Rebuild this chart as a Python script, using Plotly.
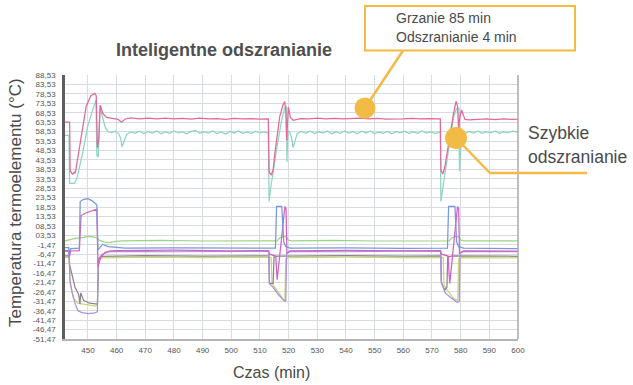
import plotly.graph_objects as go

# ---- axis ticks -------------------------------------------------------------
x_ticks = [450, 460, 470, 480, 490, 500, 510, 520, 530, 540, 550, 560, 570, 580, 590, 600]
y_ticks = [88.53, 83.53, 78.53, 73.53, 68.53, 63.53, 58.53, 53.53, 48.53, 43.53,
           38.53, 33.53, 28.53, 23.53, 18.53, 13.53, 8.53, 3.53, -1.47, -6.47,
           -11.47, -16.47, -21.47, -26.47, -31.47, -36.47, -41.47, -46.47, -51.47]
y_ticktext = ["88,53", "83,53", "78,53", "73,53", "68,53", "63,53", "58,53", "53,53",
              "48,53", "43,53", "38,53", "33,53", "28,53", "23,53", "18,53", "13,53",
              "08,53", "03,53", "-1,47", "-6,47", "-11,47", "-16,47", "-21,47",
              "-26,47", "-31,47", "-36,47", "-41,47", "-46,47", "-51,47"]

# ---- heater / coil sensors (upper pair) --------------------------------------
pink_t = [442.0, 443.6, 443.8, 444.6, 445.3, 445.6, 447.1, 449.4, 451.0, 452.4,
          452.9, 453.3, 453.8, 454.3, 455.2, 456.5, 458.5, 460.5, 461.7, 463.0,
          465, 468, 471, 474, 477, 480, 483, 486, 489, 492,
          495, 498, 501, 504, 507, 510, 512.9, 513.2, 514.0, 514.6,
          515.2, 516.9, 518.0, 518.6, 519.0, 519.3, 519.9, 520.6, 521.6, 524,
          527, 530, 533, 536, 539, 542, 545, 548, 551, 554,
          557, 560, 563, 566, 569, 572.9, 573.1, 573.8, 574.5, 576.0,
          577.5, 578.4, 578.9, 579.3, 579.7, 580.3, 581.5, 583, 586, 589,
          592, 595, 598, 600]
pink_v = [63.5, 63.5, 37.5, 36.0, 37.0, 36.5, 50.5, 72.0, 77.5, 78.8,
          77.5, 50.0, 55.0, 72.5, 68.0, 66.0, 65.5, 65.0, 63.5, 65.2,
          65.8, 65.3, 65.6, 65.2, 65.7, 65.3, 65.5, 65.1, 65.6, 65.3,
          65.4, 65.0, 65.5, 65.2, 65.4, 65.1, 65.3, 37.0, 35.5, 38.5,
          47.0, 66.5, 72.5, 74.5, 70.0, 54.0, 71.5, 66.0, 64.5, 65.4,
          65.2, 65.6, 65.3, 65.5, 65.2, 65.4, 65.6, 65.2, 65.5, 65.1,
          65.4, 65.3, 65.5, 65.2, 65.4, 65.3, 38.0, 36.0, 40.0, 55.0,
          68.0, 74.5, 72.0, 59.5, 66.0, 70.0, 65.0, 64.8, 65.0, 65.3,
          64.9, 65.2, 65.0, 65.1]

teal_t = [442.0, 443.4, 443.6, 445.3, 446.2, 448.0, 450.0, 452.0, 452.8, 453.1,
          453.6, 454.2, 455.0, 456.0, 457.0, 458.3, 459.5, 460.8, 461.4, 461.9,
          462.6, 463.5, 465, 466.5, 468, 469.5, 471, 472.5, 474, 475.5,
          477, 478.5, 480, 481.5, 483, 484.5, 486, 487.5, 489, 490.5,
          492, 493.5, 495, 496.5, 498, 499.5, 501, 502.5, 504, 505.5,
          507, 508.5, 510, 511.5, 512.9, 513.2, 513.6, 514.5, 516.0, 517.5,
          518.5, 519.2, 519.4, 519.8, 520.3, 520.9, 521.6, 522.2, 523.0, 524.5,
          526, 527.5, 529, 530.5, 532, 533.5, 535, 536.5, 538, 539.5,
          541, 542.5, 544, 545.5, 547, 548.5, 550, 551.5, 553, 554.5,
          556, 557.5, 559, 560.5, 562, 563.5, 565, 566.5, 568, 569.5,
          571, 572.9, 573.1, 573.5, 574.5, 575.2, 576.5, 577.5, 578.5, 579.4,
          579.6, 580.1, 580.6, 581.5, 583, 584.5, 586, 587.5, 589, 590.5,
          592, 593.5, 595, 596.5, 598, 600]
teal_v = [56.5, 56.5, 31.0, 31.0, 34.0, 46.0, 62.0, 72.0, 75.5, 46.0,
          45.0, 72.5, 66.5, 61.0, 58.5, 58.0, 58.8, 57.2, 55.0, 50.5,
          53.5, 57.0, 58.4, 57.6, 58.7, 57.5, 58.5, 57.7, 58.8, 57.4,
          58.3, 57.6, 58.9, 57.8, 58.4, 57.3, 58.6, 59.2, 57.6, 58.5,
          57.7, 58.8, 57.5, 58.3, 57.2, 58.6, 57.8, 58.9, 57.6, 58.4,
          57.5, 58.7, 57.8, 58.3, 57.8, 21.5, 27.0, 37.0, 51.0, 64.0,
          70.5, 72.0, 42.5, 59.0, 58.5, 56.0, 50.0, 53.5, 57.5, 58.6,
          57.6, 58.8, 57.5, 58.4, 57.7, 58.9, 57.4, 58.3, 57.6, 58.8,
          57.7, 58.5, 57.4, 58.7, 57.8, 58.9, 57.5, 58.4, 57.6, 58.6,
          57.3, 58.5, 57.9, 58.7, 57.5, 58.4, 57.6, 58.8, 57.7, 58.4,
          57.6, 58.2, 21.5, 26.0, 36.0, 45.0, 58.0, 66.0, 70.5, 71.0,
          37.5, 52.0, 55.5, 57.5, 58.6, 57.7, 58.9, 57.6, 58.5, 57.8,
          58.8, 57.6, 58.4, 57.9, 58.7, 58.2]

# ---- evaporator / cabinet sensors (lower group) ------------------------------
green_t = [442.0, 444.0, 446.0, 448.0, 450.0, 452.0, 453.2, 454.0, 455.5, 457.5,
           459.5, 462, 475, 490, 505, 516.0, 517.0, 518.5, 519.3, 519.8,
           521, 535, 550, 565, 576.0, 577.0, 578.5, 579.4, 580.0, 581,
           590, 600]
green_v = [0.6, 1.5, 2.0, 2.3, 2.9, 2.7, 2.0, 0.8, 0.0, -0.3,
           0.3, 0.6, 0.8, 0.5, 0.7, 0.6, 2.3, 2.9, 2.6, 1.0,
           0.6, 0.8, 0.5, 0.7, 0.6, 2.3, 2.9, 2.6, 1.0, 0.6,
           0.7, 0.6]

blue_t = [442.0, 443.3, 443.5, 444.0, 447.0, 447.3, 448.5, 450.0, 451.5, 453.1,
          453.5, 455.2, 457.0, 460, 463, 480, 500, 515.4, 515.8, 517.6,
          518.3, 519.0, 520.5, 540, 560, 575.4, 575.8, 578.0, 578.6, 579.3,
          581, 590, 600]
blue_v = [-3.0, -3.0, -7.0, -3.5, -3.3, 21.4, 22.6, 22.9, 21.8, 19.7,
          -4.2, -1.2, -2.5, -3.0, -3.3, -3.1, -3.4, -3.3, 18.8, 18.8,
          0.0, -2.5, -3.3, -3.1, -3.4, -3.3, 18.8, 18.8, 0.0, -2.5,
          -3.3, -3.5, -3.6]

magenta_t = [442.0, 443.3, 443.5, 444.0, 447.0, 447.6, 449.0, 451.0, 453.1, 453.5,
             454.5, 456.0, 458, 460, 480, 500, 513.0, 513.3, 515.5, 516.0,
             518.7, 519.1, 519.4, 520.5, 540, 560, 573.0, 573.3, 575.6, 576.2,
             578.9, 579.3, 579.6, 581, 600]
magenta_v = [-4.6, -4.6, -8.0, -4.8, -4.6, 14.0, 15.2, 16.3, 17.4, -13.0,
             -8.0, -5.5, -4.8, -4.6, -4.4, -4.7, -4.6, -6.5, -7.5, -20.0,
             18.8, 17.5, -6.0, -4.8, -4.5, -4.7, -4.6, -6.5, -7.5, -22.0,
             18.8, 17.5, -6.0, -4.8, -4.9]

purple_t = [442.0, 443.4, 443.7, 444.5, 445.6, 446.5, 448.0, 450.0, 452.0, 453.3,
            453.6, 455.0, 457, 460, 480, 500, 513.1, 513.3, 514.5, 516.5,
            518.6, 519.0, 519.3, 520.5, 540, 560, 573.0, 573.2, 574.6, 576.5,
            578.8, 579.5, 579.8, 581, 600]
purple_v = [-5.0, -5.0, -20.0, -27.0, -33.0, -36.5, -37.5, -38.0, -37.8, -37.0,
            -9.0, -6.5, -5.3, -5.0, -5.2, -4.9, -5.0, -22.0, -24.0, -28.0,
            -31.5, -31.0, -6.0, -5.0, -5.2, -4.9, -5.0, -21.0, -27.0, -29.5,
            -32.0, -31.5, -6.0, -5.0, -5.2]

olive_t = [442.0, 443.5, 443.8, 445.0, 446.5, 448.5, 450.5, 452.5, 453.3, 453.7,
           455, 470, 490, 513.9, 514.2, 515.5, 517.5, 518.7, 519.0, 520,
           540, 560, 573.9, 574.2, 575.5, 577.5, 579.0, 579.3, 580.5, 600]
olive_v = [-8.2, -8.2, -22.0, -30.0, -32.5, -33.0, -33.5, -34.0, -33.5, -10.0,
           -8.5, -8.0, -8.3, -8.2, -22.0, -25.0, -29.0, -31.5, -9.0, -8.3,
           -8.0, -8.3, -8.2, -23.0, -26.0, -30.0, -31.0, -9.0, -8.3, -8.4]

gray_t = [442.0, 443.4, 443.6, 444.5, 445.5, 446.8, 447.2, 447.5, 448.5, 450.5,
          452.5, 453.3, 453.7, 455, 470, 490, 513.1, 513.3, 514.6, 514.9,
          516, 540, 560, 573.1, 573.3, 574.5, 575.2, 575.5, 577, 600]
gray_v = [-7.4, -7.4, -12.0, -18.0, -24.0, -28.0, -33.0, -27.0, -31.0, -32.5,
          -33.0, -33.0, -9.0, -7.6, -7.2, -7.5, -7.4, -22.0, -22.0, -8.0,
          -7.5, -7.2, -7.5, -7.4, -22.0, -25.5, -24.0, -8.0, -7.4, -7.6]

series = [
    (green_t, green_v, "#9ad486"),
    (olive_t, olive_v, "#c9d77a"),
    (gray_t, gray_v, "#8e848b"),
    (purple_t, purple_v, "#ab91db"),
    (magenta_t, magenta_v, "#d262c3"),
    (blue_t, blue_v, "#7897de"),
    (teal_t, teal_v, "#8fd4c2"),
    (pink_t, pink_v, "#e3689a"),
]

FONT = "Liberation Sans, Arial, Helvetica, sans-serif"
ACCENT = "#f2bb46"
TEXT = "#4a4a4a"

fig = go.Figure()
for t, v, c in series:
    fig.add_trace(go.Scatter(x=t, y=v, mode="lines",
                             line=dict(color=c, width=1.25), hoverinfo="skip"))

# plot-area geometry in pixels (for the callouts drawn outside the axes)
L, R, T, B = 65, 115, 75, 46
W, H = 633, 385
PW, PH = W - L - R, H - T - B


def px(x):
    return (x - L) / PW


def py(y):
    return (H - B - y) / PH


fig.update_layout(
    width=W, height=H,
    margin=dict(l=L, r=R, t=T, b=B),
    plot_bgcolor="white", paper_bgcolor="white",
    showlegend=False,
    font=dict(family=FONT, color=TEXT),
    xaxis=dict(range=[442, 600], tickvals=x_ticks, showgrid=True,
               gridcolor="#d6dce2", gridwidth=1, zeroline=False,
               showline=True, linecolor="#b5b5b5", linewidth=1.5,
               ticks="", ticklabelstandoff=3,
               tickfont=dict(size=8, color="#555", family=FONT)),
    yaxis=dict(range=[-51.47, 88.53], tickvals=y_ticks, ticktext=y_ticktext,
               showgrid=True, gridcolor="#d6dce2", gridwidth=1, zeroline=False,
               showline=True, linecolor="#5e5e5e", linewidth=2.5,
               ticks="", ticklabelstandoff=5,
               tickfont=dict(size=8, color="#555", family=FONT)),
)

shapes = [
    # right frame edge
    dict(type="line", xref="paper", yref="paper", x0=1, x1=1, y0=0, y1=1,
         line=dict(color="#aaaaaa", width=1.5)),
    # callout box
    dict(type="rect", xref="paper", yref="paper",
         x0=px(365), x1=px(575), y0=py(50.5), y1=py(6),
         line=dict(color=ACCENT, width=2)),
    dict(type="line", xref="paper", yref="paper",
         x0=px(403), y0=py(50.5), x1=px(365), y1=py(108),
         line=dict(color=ACCENT, width=2.5)),
    dict(type="circle", xref="paper", yref="paper",
         x0=px(354.5), x1=px(375.5), y0=py(118.5), y1=py(97.5),
         fillcolor=ACCENT, line=dict(color=ACCENT, width=0)),
    # quick-defrost pointer
    dict(type="path", xref="paper", yref="paper",
         path=f"M {px(456)} {py(138)} L {px(490)} {py(173)} L {px(587)} {py(173)}",
         line=dict(color=ACCENT, width=2.5)),
    dict(type="circle", xref="paper", yref="paper",
         x0=px(445), x1=px(467), y0=py(149), y1=py(127),
         fillcolor=ACCENT, line=dict(color=ACCENT, width=0)),
]
fig.update_layout(shapes=shapes)

annotations = [
    dict(text="<b>Inteligentne odszranianie</b>", x=px(224), y=py(50),
         font=dict(size=18, color="#4f4f4f")),
    dict(text="Temperatura termoelementu (°C)", x=px(15), y=py(203),
         textangle=-90, font=dict(size=17, color=TEXT)),
    dict(text="Czas (min)", x=px(271), y=py(372), font=dict(size=16, color=TEXT)),
    dict(text="Grzanie 85 min", x=px(394), y=py(18.5), xanchor="left",
         font=dict(size=14, color=TEXT)),
    dict(text="Odszranianie 4 min", x=px(394), y=py(36.8), xanchor="left",
         font=dict(size=14, color=TEXT)),
    dict(text="Szybkie", x=px(526), y=py(133), xanchor="left",
         font=dict(size=17.5, color=TEXT)),
    dict(text="odszranianie", x=px(526), y=py(157), xanchor="left",
         font=dict(size=17.5, color=TEXT)),
]
for a in annotations:
    a.setdefault("xanchor", "center")
    a.update(xref="paper", yref="paper", yanchor="middle", showarrow=False)
fig.update_layout(annotations=annotations)

fig.write_html("out.html")
